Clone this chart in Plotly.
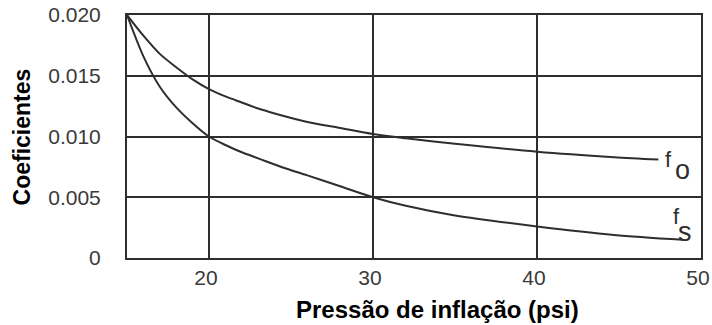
import plotly.graph_objects as go

# Inflation pressure (psi) and rolling-resistance coefficients
pressure_fo = [15, 16, 17, 18, 19, 20, 21, 22, 23, 24, 26, 28, 30, 32, 35, 40, 44.7, 47.4]
coef_fo = [0.0200, 0.0183, 0.0168, 0.0157, 0.0147, 0.0139, 0.0133, 0.0128, 0.0123,
           0.0119, 0.0112, 0.0107, 0.0102, 0.00985, 0.0094, 0.00875, 0.0083, 0.0081]

pressure_fs = [15, 16, 17, 18, 19, 20, 21, 22, 23, 24.5, 26, 28, 30, 32, 35, 40, 44.7, 48.9]
coef_fs = [0.0200, 0.0166, 0.0141, 0.0124, 0.0111, 0.0100, 0.0093, 0.0087, 0.0082,
           0.00745, 0.0068, 0.0059, 0.0050, 0.0043, 0.0035, 0.0026, 0.0019, 0.0015]

x_ticks = [20, 30, 40, 50]
y_ticks = [0, 0.005, 0.010, 0.015, 0.020]
y_tick_text = ["0", "0.005", "0.010", "0.015", "0.020"]

ink = "#2e2e2e"
font = "Liberation Sans, Arial, sans-serif"

fig = go.Figure()
fig.add_trace(go.Scatter(x=pressure_fo, y=coef_fo, mode="lines",
                         line=dict(color=ink, width=2, shape="spline", smoothing=0.8),
                         hoverinfo="skip"))
fig.add_trace(go.Scatter(x=pressure_fs, y=coef_fs, mode="lines",
                         line=dict(color=ink, width=2, shape="spline", smoothing=0.8),
                         hoverinfo="skip"))


def curve_label(x, y, letter, sub, dx_f, dy_f, dx_s, dy_s):
    """Letter 'f' plus an enlarged, dropped subscript next to a curve end."""
    fig.add_annotation(x=x, y=y, xref="x", yref="y", text=letter, showarrow=False,
                       xanchor="center", yanchor="middle", xshift=dx_f, yshift=dy_f,
                       font=dict(family=font, size=22, color=ink))
    fig.add_annotation(x=x, y=y, xref="x", yref="y", text=sub, showarrow=False,
                       xanchor="center", yanchor="middle", xshift=dx_s, yshift=dy_s,
                       font=dict(family=font, size=27, color=ink))


curve_label(pressure_fo[-1], coef_fo[-1], "f", "o", 10, 0, 24, -10)
curve_label(pressure_fs[-1], coef_fs[-1], "f", "s", -6, 23, 2, 8)

fig.add_annotation(x=0.541, y=-0.21, xref="paper", yref="paper",
                   text="<b>Pressão de inflação (psi)</b>", showarrow=False,
                   xanchor="center", yanchor="middle",
                   font=dict(family=font, size=24, color="#000"))
fig.add_annotation(x=-0.183, y=0.5, xref="paper", yref="paper",
                   text="<b>Coeficientes</b>", showarrow=False, textangle=-90,
                   xanchor="center", yanchor="middle",
                   font=dict(family=font, size=23, color="#000"))

fig.update_xaxes(range=[15, 50], tickvals=x_ticks, showgrid=True, gridcolor=ink,
                 gridwidth=2, showline=True, linecolor=ink, linewidth=2, mirror=True,
                 zeroline=False, ticks="", ticklabelstandoff=0, ticklabelshift=-3,
                 ticklabeloverflow="allow", automargin=False,
                 tickfont=dict(family=font, size=21, color="#3a3a3a"))
fig.update_yaxes(range=[0, 0.020], tickvals=y_ticks, ticktext=y_tick_text,
                 showgrid=True, gridcolor=ink, gridwidth=2, showline=True,
                 linecolor=ink, linewidth=2, mirror=True, zeroline=False, ticks="",
                 ticklabelstandoff=20, ticklabeloverflow="allow", automargin=False,
                 tickfont=dict(family=font, size=21, color="#3a3a3a"))

fig.update_layout(width=712, height=325, margin=dict(l=127, r=11, t=15, b=67),
                  paper_bgcolor="white", plot_bgcolor="white", showlegend=False)

fig.write_html("out.html")
